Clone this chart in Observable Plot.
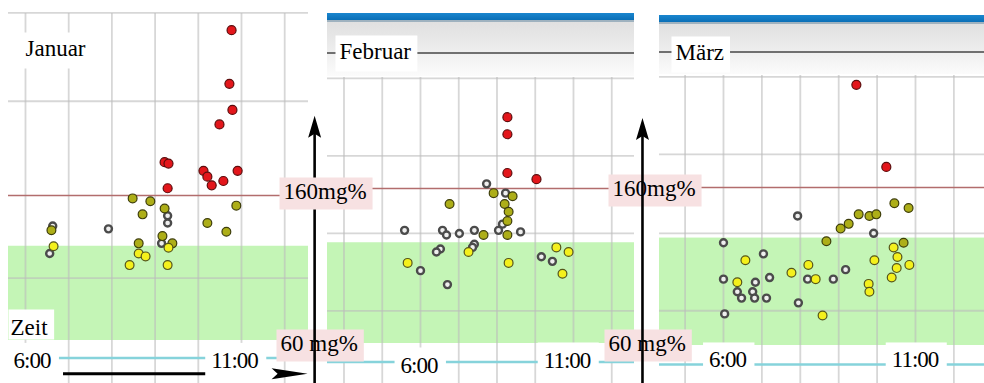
<!DOCTYPE html>
<html>
<head>
<meta charset="utf-8">
<script src="https://cdn.jsdelivr.net/npm/d3@7"></script>
<script src="https://cdn.jsdelivr.net/npm/@observablehq/plot@0.6"></script>
<style>
html, body { margin: 0; padding: 0; background: #fff; }
#root { position: relative; width: 984px; height: 383px; overflow: hidden; background: #fff; font-family: "Liberation Serif", "DejaVu Serif", serif; }
#root svg text, #root svg tspan { font-family: "Liberation Serif", "DejaVu Serif", serif !important; }
.panel { position: absolute; top: 0; height: 383px; }
.panel svg { position: absolute; left: 0; top: 0; }
.chrome { position: absolute; left: 0; right: 0; }
</style>
</head>
<body>
<div id="root"></div>
<script>
// ---------- data ----------
const months = ["Januar", "Februar", "März"];

// time of day (hours) and blood glucose (mg%) of each measurement
const janTime    = [10.77,10.72,10.79,10.49,9.22,9.31,10.12,10.21,10.91,10.58,10.31,9.29,
                    8.48,8.89,9.22,10.88,8.71,10.21,10.65,6.60,9.17,9.40,8.62,
                    9.31,8.62,8.78,8.41,9.29,6.65,
                    9.29,9.29,6.63,7.92,9.15,6.56];
const janGlucose = [274,237,219,209,183,182,177,173,177,170,167,165,
                    158,156,151,153,147,141,135,136,132,127,127,
                    124,120,118,112,112,125,
                    146,141,139,137,127,120];
const janKind    = ["hoch","hoch","hoch","hoch","hoch","hoch","hoch","hoch","hoch","hoch","hoch","hoch",
                    "grenz","grenz","grenz","grenz","grenz","grenz","grenz","grenz","grenz","grenz","grenz",
                    "normal","normal","normal","normal","normal","normal",
                    "andere","andere","andere","andere","andere","andere"];

const febTime    = [8.84,8.84,8.84,9.79,
                    8.39,9.01,6.95,8.75,8.88,8.84,8.84,8.06,
                    7.57,5.58,8.88,10.44,10.84,10.64,
                    8.16,8.78,8.68,8.55,9.27,5.48,6.72,6.85,7.27,7.76,7.76,7.70,6.65,6.52,6.00,6.88,9.95,10.31];
const febGlucose = [206,195,170,166,
                    157,155,150,150,145,139,130,130,
                    119,112,112,122,119,105,
                    163,157,137,133,132,133,133,130,131,133,124,122,121,119,107,98,116,113];
const febKind    = ["hoch","hoch","hoch","hoch",
                    "grenz","grenz","grenz","grenz","grenz","grenz","grenz","grenz",
                    "normal","normal","normal","normal","normal","normal",
                    "andere","andere","andere","andere","andere","andere","andere","andere","andere",
                    "andere","andere","andere","andere","andere","andere","andere","andere","andere"];

const marTime    = [9.46,10.24,
                    10.45,10.82,9.52,9.80,9.98,9.05,9.26,8.68,10.69,
                    10.43,10.53,6.57,8.21,7.77,9.93,10.84,10.51,8.40,10.38,6.36,9.78,9.80,8.58,
                    7.93,9.91,6.00,7.04,9.18,7.20,8.19,8.86,6.00,6.83,6.36,6.76,6.47,6.81,7.12,7.95,6.03];
const marGlucose = [225,173,
                    150,147,143,142,143,134,137,126,125,
                    122,116,114,111,106,114,111,109,102,103,100,99,94,79,
                    142,131,125,118,108,103,102,102,102,100,94,94,90,90,90,87,80];
const marKind    = ["hoch","hoch",
                    "grenz","grenz","grenz","grenz","grenz","grenz","grenz","grenz","grenz",
                    "normal","normal","normal","normal","normal","normal","normal","normal","normal",
                    "normal","normal","normal","normal","normal",
                    "andere","andere","andere","andere","andere","andere","andere","andere","andere",
                    "andere","andere","andere","andere","andere","andere","andere","andere"];

const limitHigh = 160;               // red limit line
const bandLow  = [60, 60, 60];       // green target band per month
const bandHigh = [125, 125, 128];
const lowLine = 48;                  // cyan base line
const tickTimes  = [6, 11];
const tickLabels = ["6:00", "11:00"];
const limitLabels = ["160mg%", "60 mg%"];
const limitValues = [160, 60];
const axisLabel = "Zeit";
const gridTimes   = [[6,7,8,9,10,11,12], [3.5,4.75,6,7.25,8.5,9.75,11,12.25], [5,6,7,8,9,10,11,12]];
const gridGlucose = [[103,225,286], [81,131,181,231], [82,131,181,230]];
// axis arrows (in the scale of the panel that carries them)
const timeArrow = [{from: 6.88, to: 12.53, level: 37}];
const glucoseArrows = [null, [{time: 2.54, from: 30, to: 207}], [{time: 3.89, from: 30, to: 204}]];

// ---------- layout & style ----------
const SERIF = "'Liberation Serif', 'DejaVu Serif', serif";
const layout = [
  {left: 8,   width: 300, top: 13, xRange: [17, 233], yRange: [340, 195], titleOff: [17, 42],
   tickOff: [[6.5, 10], [-7, 10]], chrome: null},
  {left: 327, width: 307, top: 77, xRange: [93, 246], yRange: [343, 188], titleOff: [12, -19],
   tickOff: [[-1.5, 10.4], [-6.5, 5.4]], chrome: {blue: 13, line: 52},
   limitOff: [[-44, 10], [-47, 7]]},
  {left: 659, width: 325, top: 75, xRange: [64, 256], yRange: [345, 187], titleOff: [16, -16],
   tickOff: [[4, 3], [-0.5, 3]], chrome: {blue: 15, line: 51},
   limitOff: [[-47, 8], [-51, 5]]}
];
const kindStyle = {
  hoch:   {fill: "#e3161b", stroke: "#5c0d0d", strokeWidth: 1.2, r: 4.5},
  grenz:  {fill: "#adae18", stroke: "#3d3d0a", strokeWidth: 1.2, r: 4.4},
  normal: {fill: "#f4f01c", stroke: "#55551a", strokeWidth: 1.2, r: 4.4},
  andere: {fill: "#efefef", stroke: "#4b4b4b", strokeWidth: 2.4, r: 3.5}
};
const kindOrder = ["andere", "grenz", "normal", "hoch"];
const arrowUp = {draw(c) { c.moveTo(0, 0); c.lineTo(6.5, 22); c.lineTo(0, 18); c.lineTo(-6.5, 22); c.closePath(); }};
const arrowRight = {draw(c) { c.moveTo(0, 0); c.lineTo(-36, -5.5); c.lineTo(-30, 0); c.lineTo(-36, 5.5); c.closePath(); }};
const FS = 23;

const series = [
  [janTime, janGlucose, janKind],
  [febTime, febGlucose, febKind],
  [marTime, marGlucose, marKind]
];

const root = document.getElementById("root");

function glucoseArrowMarks(arr) {
  return [
    Plot.ruleX(arr, {x: "time", y1: "from", y2: d => d.to - 8, stroke: "black", strokeWidth: 2.6}),
    Plot.dot(arr, {x: "time", y: "to", symbol: arrowUp, fill: "black", stroke: "none"})
  ];
}
function limitLabelMark(k, off) {
  return Plot.text([{v: limitValues[k], s: limitLabels[k]}], {
    y: "v", text: "s", frameAnchor: "left", textAnchor: "start", lineAnchor: "bottom",
    dx: off[0], dy: off[1], fontSize: FS, fontFamily: SERIF, fill: "black"
  });
}

months.forEach((m, i) => {
  const L = layout[i];
  const [T, G, K] = series[i];
  const rows = T.map((t, j) => ({time: t, glucose: G[j], kind: K[j]}));

  const panel = document.createElement("div");
  panel.className = "panel";
  panel.style.left = L.left + "px";
  panel.style.width = L.width + "px";
  if (L.chrome) {
    const c = L.chrome;
    const parts = [
      [c.blue, 7, "linear-gradient(#1a86cf,#0a6fb6)"],
      [c.blue + 7, 1.5, "#9fb2bf"],
      [c.blue + 8.5, c.line - c.blue - 8.5, "linear-gradient(#e0e0e0,#eeeeee)"],
      [c.line, 2, "#707070"],
      [c.line + 2, L.top - c.line - 3, "linear-gradient(#f0f0f0,#fbfbfb)"]
    ];
    for (const [top, h, bg] of parts) {
      const d = document.createElement("div");
      d.className = "chrome";
      d.style.top = top + "px";
      d.style.height = h + "px";
      d.style.background = bg;
      panel.appendChild(d);
    }
  }

  const marks = [
    Plot.rect([{lo: bandLow[i], hi: bandHigh[i]}], {y1: "lo", y2: "hi", fill: "#c4f5b6"}),
    Plot.ruleX(gridTimes[i], {stroke: "#bdbdbd", strokeOpacity: 0.6, strokeWidth: 1.8}),
    Plot.ruleY(gridGlucose[i], {stroke: "#bdbdbd", strokeOpacity: 0.6, strokeWidth: 1.8}),
    Plot.ruleY([limitHigh], {stroke: "#b26d6d", strokeWidth: 1.6}),
    Plot.ruleY([lowLine], {stroke: "#86d3db", strokeWidth: 2.5})
  ];
  if (i === 0) {
    marks.push(
      Plot.ruleY(timeArrow, {y: "level", x1: "from", x2: d => d.to - 2, stroke: "black", strokeWidth: 3}),
      Plot.dot(timeArrow, {x: "to", y: "level", symbol: arrowRight, fill: "black", stroke: "none"})
    );
  }
  for (const k of kindOrder) {
    const s = kindStyle[k];
    marks.push(Plot.dot(rows.filter(d => d.kind === k), {
      x: "time", y: "glucose", r: s.r, fill: s.fill, stroke: s.stroke, strokeWidth: s.strokeWidth
    }));
  }
  tickTimes.forEach((t, j) => {
    marks.push(Plot.text([{t, s: tickLabels[j]}], {
      x: "t", y: () => lowLine, text: "s", textAnchor: "middle", lineAnchor: "bottom",
      dx: L.tickOff[j][0], dy: L.tickOff[j][1], fontSize: FS, fontFamily: SERIF, fill: "black"
    }));
  });
  marks.push(Plot.text([m], {
    frameAnchor: "top-left", textAnchor: "start", lineAnchor: "bottom",
    dx: L.titleOff[0], dy: L.titleOff[1], fontSize: FS, fontFamily: SERIF, fill: "black"
  }));
  if (i === 0) {
    marks.push(Plot.text([axisLabel], {
      frameAnchor: "bottom-left", textAnchor: "start", lineAnchor: "bottom",
      dx: 2, dy: -49, fontSize: FS, fontFamily: SERIF, fill: "black"
    }));
  }
  if (i === 1) {
    marks.push(limitLabelMark(1, L.limitOff[1]));
    marks.push(...glucoseArrowMarks(glucoseArrows[1]));
    marks.push(limitLabelMark(0, L.limitOff[0]));
  }
  if (i === 2) {
    marks.push(limitLabelMark(1, L.limitOff[1]));
    marks.push(limitLabelMark(0, L.limitOff[0]));
    marks.push(...glucoseArrowMarks(glucoseArrows[2]));
  }

  const svg = Plot.plot({
    width: L.width, height: 383,
    marginTop: L.top, marginRight: 0, marginBottom: 0, marginLeft: 0,
    x: {domain: [6, 11], range: L.xRange, axis: null},
    y: {domain: [60, 160], range: L.yRange, axis: null},
    style: {background: "transparent", overflow: "visible", fontFamily: SERIF, fontSize: "23px", color: "black", maxWidth: "none"},
    marks
  });
  svg.setAttribute("font-family", SERIF);
  panel.appendChild(svg);
  root.appendChild(panel);
});

// label boxes behind the texts (pink for limits, white for the others)
const NS = "http://www.w3.org/2000/svg";
root.querySelectorAll("svg text").forEach(t => {
  const s = t.textContent;
  t.setAttribute("font-family", SERIF);
  t.style.fontFamily = SERIF;
  let fill, pad; // top, right, bottom, left
  if (tickLabels.includes(s)) { t.style.letterSpacing = "-1px"; fill = "#ffffff"; pad = [5, 8, 14, 6]; }
  else if (limitLabels.includes(s)) { fill = "#f7e1e2"; pad = [1, 6, 6, 4]; }
  else if (months.includes(s)) { fill = "#ffffff"; pad = [3, 6, 8, 4]; }
  else if (s === axisLabel) { fill = "#ffffff"; pad = [5, 6, 0, 2]; }
  else return;
  const b = t.getBBox();
  const r = document.createElementNS(NS, "rect");
  r.setAttribute("x", b.x - pad[3]);
  r.setAttribute("y", b.y - pad[0]);
  r.setAttribute("width", b.width + pad[1] + pad[3]);
  r.setAttribute("height", b.height + pad[0] + pad[2]);
  r.setAttribute("fill", fill);
  r.setAttribute("stroke", "none");
  const tr = t.getAttribute("transform");
  if (tr) r.setAttribute("transform", tr);
  t.parentNode.insertBefore(r, t);
});
</script>
</body>
</html>
